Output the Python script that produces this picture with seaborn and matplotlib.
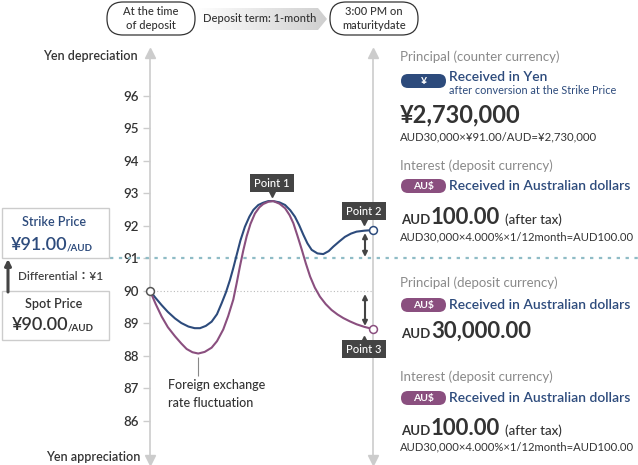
import matplotlib
matplotlib.use("Agg")
import matplotlib.pyplot as plt
import numpy as np
import pandas as pd
import seaborn as sns
from matplotlib.colors import LinearSegmentedColormap
from matplotlib.patches import FancyBboxPatch, Rectangle, Polygon

# --------------------------- data ---------------------------
# term: fraction of the 1-month deposit term (0 = deposit, 1 = maturity)
term_up = [0.000, 0.025, 0.052, 0.080, 0.112, 0.140, 0.172, 0.200, 0.224, 0.250, 0.276,
           0.300, 0.321, 0.340, 0.358, 0.373, 0.388, 0.405, 0.425, 0.445, 0.463, 0.485,
           0.507, 0.530, 0.552, 0.580, 0.605, 0.628, 0.649, 0.668, 0.687, 0.705, 0.724,
           0.750, 0.776, 0.800, 0.821, 0.848, 0.873, 0.900, 0.925, 0.960, 1.000]
rate_up = [90.00, 89.78, 89.56, 89.35, 89.15, 89.01, 88.90, 88.85, 88.85, 88.92, 89.05,
           89.28, 89.62, 89.95, 90.33, 90.70, 91.10, 91.55, 91.97, 92.28, 92.49, 92.64,
           92.71, 92.76, 92.76, 92.72, 92.64, 92.48, 92.28, 92.02, 91.72, 91.46, 91.26,
           91.15, 91.13, 91.22, 91.36, 91.52, 91.66, 91.76, 91.82, 91.85, 91.87]
term_down = [0.000, 0.025, 0.052, 0.080, 0.112, 0.140, 0.164, 0.190, 0.216, 0.245, 0.276,
             0.300, 0.328, 0.350, 0.373, 0.388, 0.403, 0.418, 0.433, 0.450, 0.470, 0.490,
             0.507, 0.530, 0.552, 0.580, 0.605, 0.625, 0.642, 0.660, 0.680, 0.698, 0.717,
             0.738, 0.761, 0.787, 0.813, 0.840, 0.866, 0.895, 0.925, 0.960, 1.000]
rate_down = [90.00, 89.60, 89.21, 88.88, 88.60, 88.38, 88.21, 88.11, 88.07, 88.12, 88.25,
             88.45, 88.81, 89.22, 89.73, 90.23, 90.76, 91.25, 91.68, 92.06, 92.38, 92.57,
             92.67, 92.74, 92.76, 92.68, 92.54, 92.33, 92.08, 91.70, 91.26, 90.84, 90.44,
             90.10, 89.82, 89.59, 89.41, 89.27, 89.16, 89.06, 88.97, 88.89, 88.82]
spot_price = 90.0
strike_price = 91.0
rate_ticks = [86, 87, 88, 89, 90, 91, 92, 93, 94, 95, 96]

NAVY = "#2d4b7c"
PURPLE = "#8a4f7f"
DARK = "#333333"
GRAY = "#8a8a8a"
AXIS = "#cccccc"
BOX = "#444444"

sns.set_theme(style="white")
plt.rcParams["font.family"] = ["Lato", "DejaVu Sans"]

W, H = 638, 465
fig = plt.figure(figsize=(W / 100, H / 100), dpi=100)

# chart axes: x = term, y = JPY per AUD (32.5 px per yen, 90 at y=290.8 px)
px_per_yen = 32.5
y90 = 290.8
x0, x1 = 150.0, 373.3
ax = fig.add_axes([x0 / W, 0, (x1 - x0) / W, 1])
ax.set_xlim(0, 1)
ax.set_ylim(90 - (H - y90) / px_per_yen, 90 + y90 / px_per_yen)
ax.patch.set_alpha(0)

def px_to_t(px):
    return (px - x0) / (x1 - x0)

def py_to_rate(py):
    return 90 + (y90 - py) / px_per_yen

df = pd.concat([
    pd.DataFrame({"term": term_up, "rate": rate_up, "series": "up"}),
    pd.DataFrame({"term": term_down, "rate": rate_down, "series": "down"}),
])
sns.lineplot(data=df, x="term", y="rate", hue="series",
             palette={"up": NAVY, "down": PURPLE}, legend=False,
             linewidth=1.5, ax=ax, zorder=4, solid_joinstyle="round")

# axes styling
for s in ["top", "right", "bottom"]:
    ax.spines[s].set_visible(False)
lo, hi = py_to_rate(458), py_to_rate(55)
ax.spines["left"].set_color(AXIS)
ax.spines["left"].set_linewidth(1.2)
ax.spines["left"].set_bounds(lo, hi)
ax.vlines(1, lo, hi, colors=AXIS, linewidth=1.2, clip_on=False)
ax.plot([0, 1], [py_to_rate(53)] * 2, ls="none", marker="^", ms=7, color=AXIS, clip_on=False)
ax.plot([0, 1], [py_to_rate(460)] * 2, ls="none", marker="v", ms=7, color=AXIS, clip_on=False)
ax.set_xticks([])
ax.set_yticks(rate_ticks)
ax.set_yticklabels([str(v) for v in rate_ticks], fontweight="semibold")
ax.tick_params(axis="y", length=5, width=1, color=AXIS, pad=3, labelsize=9.5, labelcolor=DARK, left=True)
ax.set_xlabel("")
ax.set_ylabel("")

# reference lines
ax.hlines(spot_price, 0, 1, colors="#bbbbbb", linestyles=(0, (1, 2)), linewidth=0.8, zorder=2)
ax.hlines(strike_price, px_to_t(110), px_to_t(W), colors="#8fbcc6",
          linestyles=(0, (1.5, 2.5)), linewidth=1.6, clip_on=False, zorder=2)

# open end markers
ax.scatter([0], [spot_price], s=32, facecolor="white", edgecolor="#555555", linewidth=1.1, zorder=6, clip_on=False)
ax.scatter([1], [rate_up[-1]], s=32, facecolor="white", edgecolor=NAVY, linewidth=1.1, zorder=6, clip_on=False)
ax.scatter([1], [rate_down[-1]], s=32, facecolor="white", edgecolor=PURPLE, linewidth=1.1, zorder=6, clip_on=False)

# point labels
def point_label(t, yc, ytri, label, up=False):
    ax.text(t, yc, label, ha="center", va="center", color="white", fontsize=8,
            fontweight="medium",
            bbox=dict(boxstyle="square,pad=0.35", fc=BOX, ec="none"), zorder=7)
    ax.plot([t], [ytri], ls="none", marker="^" if up else "v", ms=4, color=BOX, zorder=7, clip_on=False)

point_label(px_to_t(272), py_to_rate(183), py_to_rate(193.5), "Point 1")
point_label(px_to_t(364), py_to_rate(211), py_to_rate(221.5), "Point 2")
point_label(px_to_t(364), py_to_rate(349), py_to_rate(338.5), "Point 3", up=True)

# differential arrows
for a, b in [(py_to_rate(233), py_to_rate(257)), (py_to_rate(294), py_to_rate(326))]:
    ax.annotate("", xy=(px_to_t(365), a), xytext=(px_to_t(365), b),
                arrowprops=dict(arrowstyle="<|-|>", color=BOX, lw=1.5, mutation_scale=7,
                                shrinkA=0, shrinkB=0), zorder=6)

# leader line for the fluctuation note
ax.vlines(px_to_t(198), py_to_rate(376), py_to_rate(357), colors="#888888", linewidth=0.8)

# --------------------------- overlay in pixel coords ---------------------------
ov = fig.add_axes([0, 0, 1, 1])
ov.set_xlim(0, W)
ov.set_ylim(H, 0)
ov.axis("off")
ov.patch.set_alpha(0)

ov.text(168, 385, "Foreign exchange", ha="left", va="center", fontsize=9, color=DARK, fontweight="medium")
ov.text(168, 403, "rate fluctuation", ha="left", va="center", fontsize=9, color=DARK, fontweight="medium")
ov.text(138, 56, "Yen depreciation", ha="right", va="center", fontsize=9, color=DARK, fontweight="semibold")
ov.text(140, 457, "Yen appreciation", ha="right", va="center", fontsize=9, color=DARK, fontweight="semibold")

# header
for x, lines in [(107, "At the time\nof deposit"), (330, "3:00 PM on\nmaturitydate")]:
    ov.add_patch(FancyBboxPatch((x, 2), 88, 33, boxstyle="round,pad=0,rounding_size=16",
                                fc="white", ec=DARK, lw=0.9))
    ov.text(x + 44, 18.5, lines, ha="center", va="center", fontsize=8, color=DARK,
            linespacing=1.25, fontweight="medium")
arrow = Polygon([(196, 8), (318, 8), (327, 19), (318, 30), (196, 30)], closed=True,
                fc="none", ec="none", transform=ov.transData)
ov.add_patch(arrow)
grad_cmap = LinearSegmentedColormap.from_list("g", ["#ffffff", "#cfcfcf"])
im = ov.imshow(np.linspace(0, 1, 256)[None, :], cmap=grad_cmap, extent=(196, 327, 30, 8),
               aspect="auto", zorder=1)
im.set_clip_path(arrow)
ov.set_xlim(0, W)
ov.set_ylim(H, 0)
ov.text(260, 19, "Deposit term: 1-month", ha="center", va="center", fontsize=8, color=DARK,
        zorder=3, fontweight="medium")

# left price boxes
ov.add_patch(Rectangle((1.5, 208), 107, 50, fc="white", ec=AXIS, lw=1))
ov.add_patch(Rectangle((1.5, 291), 107, 49, fc="white", ec=AXIS, lw=1))
ov.text(54, 222, "Strike Price", ha="center", va="center", fontsize=9, color=NAVY, fontweight="semibold")
ov.text(67, 250, f"¥{strike_price:.2f}", ha="right", va="baseline", fontsize=13, color=NAVY, fontweight="semibold")
ov.text(67, 250, "/AUD", ha="left", va="baseline", fontsize=7, color=NAVY, fontweight="bold")
ov.text(54, 304, "Spot Price", ha="center", va="center", fontsize=9, color=DARK, fontweight="semibold")
ov.text(68, 330, f"¥{spot_price:.2f}", ha="right", va="baseline", fontsize=13, color=DARK, fontweight="semibold")
ov.text(68, 330, "/AUD", ha="left", va="baseline", fontsize=7, color=DARK, fontweight="bold")
ov.annotate("", xy=(8, 259), xytext=(8, 292),
            arrowprops=dict(arrowstyle="-|>", color=BOX, lw=2.2, mutation_scale=9, shrinkA=0, shrinkB=0))
ov.text(18, 276, f"Differential：¥{strike_price - spot_price:.0f}", ha="left", va="center",
        fontsize=8.5, color=BOX, fontweight="semibold",
        family=["Lato", "Noto Sans CJK JP", "DejaVu Sans"])

# right panel
def badge(y, label, color):
    ov.add_patch(FancyBboxPatch((401, y - 7), 45, 14, boxstyle="round,pad=0,rounding_size=7",
                                fc=color, ec="none"))
    ov.text(423.5, y, label, ha="center", va="center", fontsize=7.5, color="white", fontweight="bold")

def heading(y, label):
    ov.text(400, y, label, ha="left", va="center", fontsize=9.5, color=GRAY)

heading(57, "Principal (counter currency)")
badge(81, "¥", NAVY)
ov.text(449, 77, "Received in Yen", ha="left", va="center", fontsize=10, color=NAVY, fontweight="semibold")
ov.text(449, 90, "after conversion at the Strike Price", ha="left", va="center", fontsize=7.8, color=NAVY)
ov.text(400, 122, "¥2,730,000", ha="left", va="baseline", fontsize=17, color=DARK, fontweight="bold")
ov.text(400, 137, "AUD30,000×¥91.00/AUD=¥2,730,000", ha="left", va="center", fontsize=8.2, color=DARK)

def amount(y, big, tail=None):
    ov.text(401, y, "AUD", ha="left", va="baseline", fontsize=9.5, color=DARK, fontweight="bold")
    ov.text(431, y, big, ha="left", va="baseline", fontsize=16, color=DARK, fontweight="bold")
    if tail:
        ov.text(505, y, tail, ha="left", va="baseline", fontsize=9.5, color=DARK, fontweight="medium")

heading(166, "Interest (deposit currency)")
badge(186, "AU$", PURPLE)
ov.text(449, 186, "Received in Australian dollars", ha="left", va="center", fontsize=10, color=NAVY, fontweight="semibold")
amount(224, "100.00", "(after tax)")
ov.text(400, 237, "AUD30,000×4.000%×1/12month=AUD100.00", ha="left", va="center", fontsize=8.1, color=DARK)

heading(283, "Principal (deposit currency)")
badge(305, "AU$", PURPLE)
ov.text(449, 305, "Received in Australian dollars", ha="left", va="center", fontsize=10, color=NAVY, fontweight="semibold")
amount(338, "30,000.00")

heading(377, "Interest (deposit currency)")
badge(398, "AU$", PURPLE)
ov.text(449, 398, "Received in Australian dollars", ha="left", va="center", fontsize=10, color=NAVY, fontweight="semibold")
amount(435, "100.00", "(after tax)")
ov.text(400, 447, "AUD30,000×4.000%×1/12month=AUD100.00", ha="left", va="center", fontsize=8.1, color=DARK)

fig.savefig("out.png", dpi=100)
